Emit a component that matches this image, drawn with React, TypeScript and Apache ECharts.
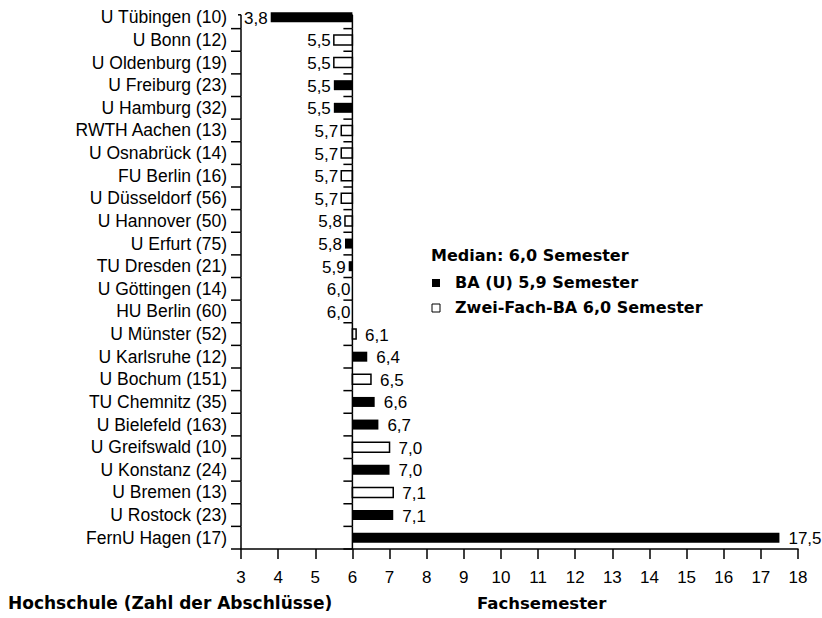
import React, { useEffect, useRef } from "react";
import * as echarts from "echarts";

const categories = [
  "U Tübingen (10)", "U Bonn (12)", "U Oldenburg (19)", "U Freiburg (23)", "U Hamburg (32)",
  "RWTH Aachen (13)", "U Osnabrück (14)", "FU Berlin (16)", "U Düsseldorf (56)", "U Hannover (50)",
  "U Erfurt (75)", "TU Dresden (21)", "U Göttingen (14)", "HU Berlin (60)", "U Münster (52)",
  "U Karlsruhe (12)", "U Bochum (151)", "TU Chemnitz (35)", "U Bielefeld (163)", "U Greifswald (10)",
  "U Konstanz (24)", "U Bremen (13)", "U Rostock (23)", "FernU Hagen (17)",
];
const values = [3.8, 5.5, 5.5, 5.5, 5.5, 5.7, 5.7, 5.7, 5.7, 5.8, 5.8, 5.9, 6.0, 6.0, 6.1, 6.4, 6.5, 6.6, 6.7, 7.0, 7.0, 7.1, 7.1, 17.5];
const programmes = [
  "BA", "ZF", "ZF", "BA", "BA", "ZF", "ZF", "ZF", "ZF", "ZF", "BA", "BA", "ZF", "ZF", "ZF",
  "BA", "ZF", "BA", "BA", "ZF", "BA", "ZF", "BA", "BA",
];
const MEDIAN = 6;
const X_MIN = 3;
const X_MAX = 18;
const legendTitle = "Median: 6,0 Semester";
const legendBA = "BA (U) 5,9 Semester";
const legendZF = "Zwei-Fach-BA 6,0 Semester";
const yTitle = "Hochschule (Zahl der Abschlüsse)";
const xTitle = "Fachsemester";

const FONT = "Liberation Sans";
const BOLD_FONT = "DejaVu Sans";

function fmt(v: number) {
  return v.toFixed(1).replace(".", ",");
}

function barRender(filled: boolean) {
  return (params: any, api: any) => {
    const v = api.value(0);
    const idx = api.value(1);
    const [x0, yc] = api.coord([MEDIAN, idx]);
    const [x1] = api.coord([v, idx]);
    const h = 10;
    const children: any[] = [];
    const w = Math.abs(x1 - x0);
    if (w > 0.5) {
      children.push({
        type: "rect",
        shape: { x: Math.min(x0, x1), y: yc - h / 2, width: w, height: h },
        style: filled
          ? { fill: "#000" }
          : { fill: "#fff", stroke: "#000", lineWidth: 1.5 },
      });
    }
    let tx: number, align: string;
    if (v < MEDIAN - 0.01) { tx = x1 - 3; align = "right"; }
    else if (v <= MEDIAN + 0.01) { tx = x0 - 2; align = "right"; }
    else { tx = x1 + 9; align = "left"; }
    children.push({
      type: "text",
      style: {
        text: fmt(v), x: tx, y: yc + 1, align, verticalAlign: "middle",
        fontSize: 17, fontFamily: FONT, fill: "#000",
      },
    });
    return { type: "group", children };
  };
}

function frameRender(params: any, api: any) {
  const idx = api.value(1);
  const [xm, yc] = api.coord([MEDIAN, idx]);
  const [xa] = api.coord([X_MIN, idx]);
  const band = api.size([0, 1])[1];
  const top = idx === 0 ? yc - 2.5 : yc - band / 2;
  const bottom = yc + band / 2;
  const st = { stroke: "#000", lineWidth: 1.5 };
  const children: any[] = [
    { type: "line", shape: { x1: xa, y1: top, x2: xa, y2: bottom }, style: st },
    { type: "line", shape: { x1: xa - 10, y1: bottom, x2: xa, y2: bottom }, style: st },
    { type: "line", shape: { x1: xm, y1: top, x2: xm, y2: bottom }, style: st },
    { type: "line", shape: { x1: xm - 9, y1: bottom, x2: xm, y2: bottom }, style: st },
  ];
  if (idx === 0) {
    children.push({ type: "line", shape: { x1: xa - 3, y1: top, x2: xa, y2: top }, style: st });
    children.push({ type: "line", shape: { x1: xm - 5, y1: top, x2: xm, y2: top }, style: st });
  }
  return { type: "group", children };
}

function boldText(text: string, x: number, y: number, size: number) {
  return {
    type: "text",
    x,
    y,
    style: { text, fontSize: size, fontWeight: "bold", fontFamily: BOLD_FONT, fill: "#000", verticalAlign: "middle", align: "left" },
  };
}

export default function App() {
  const ref = useRef<HTMLDivElement>(null);
  useEffect(() => {
    document.body.style.margin = "0";
    const chart = echarts.init(ref.current!, null, { renderer: "svg" });
    const baData: any[] = [];
    const zfData: any[] = [];
    values.forEach((v, i) => {
      (programmes[i] === "BA" ? baData : zfData).push([v, i]);
    });
    const frameData = categories.map((_, i) => [MEDIAN, i]);
    chart.setOption({
      animation: false,
      backgroundColor: "#fff",
      grid: { left: 241, right: 24, top: 6, bottom: 69, containLabel: false },
      xAxis: {
        type: "value",
        min: X_MIN,
        max: X_MAX,
        interval: 1,
        axisLine: { show: true, lineStyle: { color: "#000", width: 1.5 } },
        axisTick: { show: true, length: 10, lineStyle: { color: "#000", width: 1.5 } },
        axisLabel: { fontSize: 17, fontFamily: FONT, color: "#000", margin: 20 },
        splitLine: { show: false },
      },
      yAxis: {
        type: "category",
        data: categories,
        inverse: true,
        axisLine: { show: false },
        axisTick: { show: false },
        axisLabel: { interval: 0, fontSize: 17.5, fontFamily: FONT, color: "#000", margin: 14 },
        splitLine: { show: false },
      },
      series: [
        { type: "custom", name: "BA", renderItem: barRender(true), data: baData, encode: { x: 0, y: 1 }, z: 2 },
        { type: "custom", name: "ZF", renderItem: barRender(false), data: zfData, encode: { x: 0, y: 1 }, z: 2 },
        { type: "custom", name: "frame", renderItem: frameRender, data: frameData, encode: { x: 0, y: 1 }, z: 3, silent: true },
      ],
      graphic: [
        boldText(legendTitle, 431, 255, 16),
        { type: "rect", shape: { x: 432, y: 279, width: 8, height: 8 }, style: { fill: "#000" } },
        boldText(legendBA, 455, 282, 16),
        { type: "rect", shape: { x: 432, y: 304, width: 8, height: 8 }, style: { fill: "#fff", stroke: "#000", lineWidth: 1 } },
        boldText(legendZF, 455, 307, 16),
        boldText(yTitle, 8, 603, 17),
        boldText(xTitle, 477, 603, 16.5),
      ],
    });
    return () => chart.dispose();
  }, []);
  return <div ref={ref} style={{ width: 822, height: 618 }} />;
}
